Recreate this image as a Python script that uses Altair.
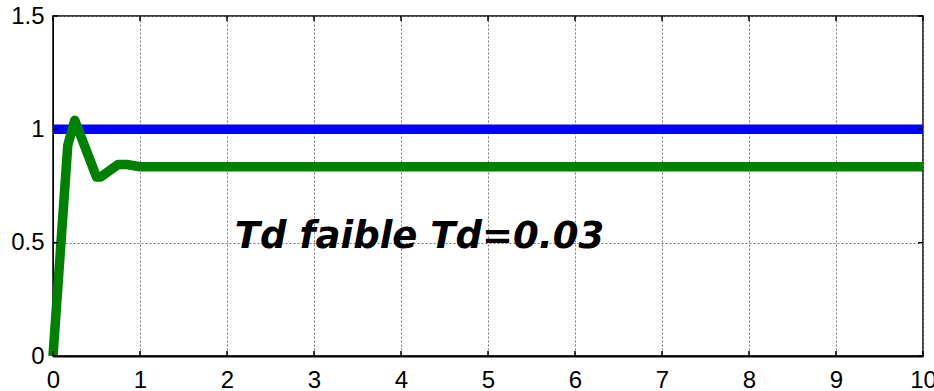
import altair as alt
import pandas as pd

# data
green_t = [0, 0.17, 0.25, 0.5, 0.55, 0.75, 0.85, 1.0, 10]
green_y = [0, 0.93, 1.04, 0.79, 0.79, 0.845, 0.845, 0.835, 0.835]
blue_t = [0, 10]
blue_y = [1, 1]
x_ticks = [0, 1, 2, 3, 4, 5, 6, 7, 8, 9, 10]
y_ticks = [0, 0.5, 1, 1.5]
label_text = ["Td faible Td=0.03"]
label_x = [2.09]
label_y = [0.478]

W, H = 870, 340

green = pd.DataFrame({"t": green_t, "y": green_y})
blue = pd.DataFrame({"t": blue_t, "y": blue_y})
xt = pd.DataFrame({"t": x_ticks})
yt = pd.DataFrame({"y": y_ticks})
lab = pd.DataFrame({"t": label_x, "y": label_y, "s": label_text})

xs = alt.Scale(domain=[0, 10], nice=False, zero=False)
ys = alt.Scale(domain=[0, 1.5], nice=False, zero=False)

xaxis = alt.Axis(values=x_ticks, format="~r", title=None, grid=True,
                 gridDash=[2, 2], gridColor="#777777", gridWidth=1,
                 ticks=False, domainColor="black", domainWidth=2,
                 labelFont="Liberation Sans", labelFontSize=24, labelColor="black",
                 labelPadding=12, labelFlush=False)
yaxis = alt.Axis(values=y_ticks, format=".1~f", title=None, grid=True,
                 gridDash=[2, 2], gridColor="#777777", gridWidth=1,
                 ticks=False, domainColor="black", domainWidth=1,
                 labelFont="Liberation Sans", labelFontSize=24, labelColor="black",
                 labelPadding=9, labelFlush=False)

base_blue = alt.Chart(blue).mark_line(color="#0000ff", strokeWidth=9.5, strokeCap="butt").encode(
    x=alt.X("t:Q", scale=xs, axis=xaxis),
    y=alt.Y("y:Q", scale=ys, axis=yaxis),
)
line_green = alt.Chart(green).mark_line(color="#008000", strokeWidth=9.5, strokeJoin="round", strokeCap="butt").encode(
    x=alt.X("t:Q", scale=xs),
    y=alt.Y("y:Q", scale=ys),
)
text = alt.Chart(lab).mark_text(font="DejaVu Sans", fontWeight="bold", fontStyle="italic",
                                fontSize=37, align="left", baseline="alphabetic", color="black").encode(
    x=alt.X("t:Q", scale=xs),
    y=alt.Y("y:Q", scale=ys),
    text="s:N",
)
tick_bottom = alt.Chart(xt).mark_rule(color="black", strokeWidth=1.5).encode(
    x=alt.X("t:Q", scale=xs), y=alt.value(H), y2=alt.value(H - 5))
tick_top = alt.Chart(xt).mark_rule(color="black", strokeWidth=1.5).encode(
    x=alt.X("t:Q", scale=xs), y=alt.value(0), y2=alt.value(5))
tick_left = alt.Chart(yt).mark_rule(color="black", strokeWidth=1.5).encode(
    y=alt.Y("y:Q", scale=ys), x=alt.value(0), x2=alt.value(5))
tick_right = alt.Chart(yt).mark_rule(color="black", strokeWidth=1.5).encode(
    y=alt.Y("y:Q", scale=ys), x=alt.value(W), x2=alt.value(W - 5))

chart = alt.layer(base_blue, line_green, text, tick_bottom, tick_top, tick_left, tick_right).properties(
    width=W, height=H,
    autosize=alt.AutoSizeParams(type="none"),
    padding={"left": 53, "top": 16, "right": 11, "bottom": 35},
    background="white",
).configure_view(stroke="black", strokeWidth=1.5)

chart.save("out.html", embed_options={"renderer": "svg", "actions": False})
